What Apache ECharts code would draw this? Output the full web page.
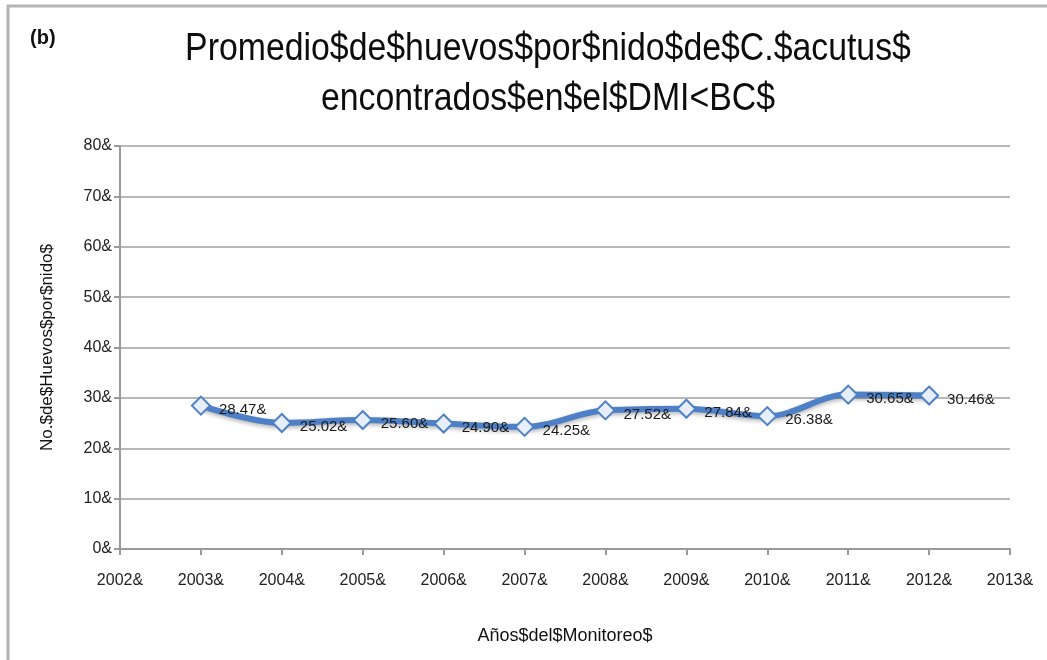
<!DOCTYPE html>
<html>
<head>
<meta charset="utf-8">
<script src="https://cdn.jsdelivr.net/npm/echarts@6/dist/echarts.min.js"></script>
<style>
  html, body { margin: 0; padding: 0; background: #ffffff; }
  #chart { width: 1047px; height: 660px; }
</style>
</head>
<body>
<div id="chart"></div>
<script>
// Yearly monitoring data: mean number of eggs per nest
const years = [2003, 2004, 2005, 2006, 2007, 2008, 2009, 2010, 2011, 2012];
const eggsPerNest = [28.47, 25.02, 25.60, 24.90, 24.25, 27.52, 27.84, 26.38, 30.65, 30.46];
const yTicks = [0, 10, 20, 30, 40, 50, 60, 70, 80];
const xTicks = [2002, 2003, 2004, 2005, 2006, 2007, 2008, 2009, 2010, 2011, 2012, 2013];

const titleLines = ['Promedio$de$huevos$por$nido$de$C.$acutus$', 'encontrados$en$el$DMI<BC$'];
const panelTag = '(b)';
const yAxisName = 'No.$de$Huevos$por$nido$';
const xAxisName = 'Años$del$Monitoreo$';
const suffix = '&';

const fontBody = "'Liberation Sans', Arial, sans-serif";

const chart = echarts.init(document.getElementById('chart'), null, { renderer: 'canvas' });

const points = years.map((y, i) => [y, eggsPerNest[i]]);

// condensed heading lines, centred over the plot
const titleGraphics = titleLines.map((line, i) => ({
  type: 'text',
  x: 548,
  y: 50 + i * 50,
  scaleX: 0.89,
  style: {
    text: line,
    font: "38px 'Liberation Sans', Arial, sans-serif",
    fill: '#0d0d0d',
    align: 'center',
    verticalAlign: 'middle'
  }
}));

chart.setOption({
  backgroundColor: '#ffffff',
  animation: false,
  graphic: [
    {
      type: 'polyline',
      shape: { points: [[8, 660], [8, 6], [1047, 6]] },
      style: { stroke: '#b4b4b4', lineWidth: 3, fill: null }
    },
    {
      type: 'text',
      left: 30,
      top: 28,
      style: {
        text: panelTag,
        font: "bold 20px 'Liberation Sans', Arial, sans-serif",
        fill: '#111111'
      }
    }
  ].concat(titleGraphics),
  grid: { left: 120, right: 37, top: 146, bottom: 111 },
  xAxis: {
    type: 'value',
    min: xTicks[0],
    max: xTicks[xTicks.length - 1],
    interval: 1,
    name: xAxisName,
    nameLocation: 'middle',
    nameGap: 78,
    nameTextStyle: { fontFamily: fontBody, fontSize: 18, color: '#111111' },
    axisLine: { show: true, lineStyle: { color: '#9a9a9a', width: 2 } },
    axisTick: { show: true, inside: false, length: 6, lineStyle: { color: '#9a9a9a', width: 2 } },
    splitLine: { show: false },
    axisLabel: {
      margin: 24,
      fontFamily: fontBody,
      fontSize: 16,
      color: '#222222',
      formatter: v => v + suffix
    }
  },
  yAxis: {
    type: 'value',
    min: yTicks[0],
    max: yTicks[yTicks.length - 1],
    interval: 10,
    name: yAxisName,
    nameLocation: 'middle',
    nameGap: 64,
    nameRotate: 90,
    nameTextStyle: { fontFamily: fontBody, fontSize: 17, color: '#111111' },
    axisLine: { show: true, lineStyle: { color: '#9a9a9a', width: 2 } },
    axisTick: { show: true, inside: false, length: 6, lineStyle: { color: '#9a9a9a', width: 2 } },
    splitLine: { show: true, lineStyle: { color: '#b8b8b8', width: 2 } },
    axisLabel: {
      margin: 8,
      fontFamily: fontBody,
      fontSize: 16,
      color: '#222222',
      formatter: v => v + suffix
    }
  },
  series: [
    {
      type: 'line',
      data: points,
      smooth: 0.35,
      symbol: 'diamond',
      symbolSize: 18,
      lineStyle: {
        color: '#4d80c6',
        width: 6,
        shadowColor: 'rgba(0,0,0,0.3)',
        shadowBlur: 4,
        shadowOffsetY: 2
      },
      itemStyle: {
        color: '#e6eef9',
        borderColor: '#4d80c6',
        borderWidth: 2
      },
      label: {
        show: true,
        position: 'right',
        distance: 8,
        offset: [0, 4],
        fontFamily: fontBody,
        fontSize: 15,
        color: '#1a1a1a',
        formatter: p => p.value[1].toFixed(2) + suffix
      }
    }
  ]
});
</script>
</body>
</html>
